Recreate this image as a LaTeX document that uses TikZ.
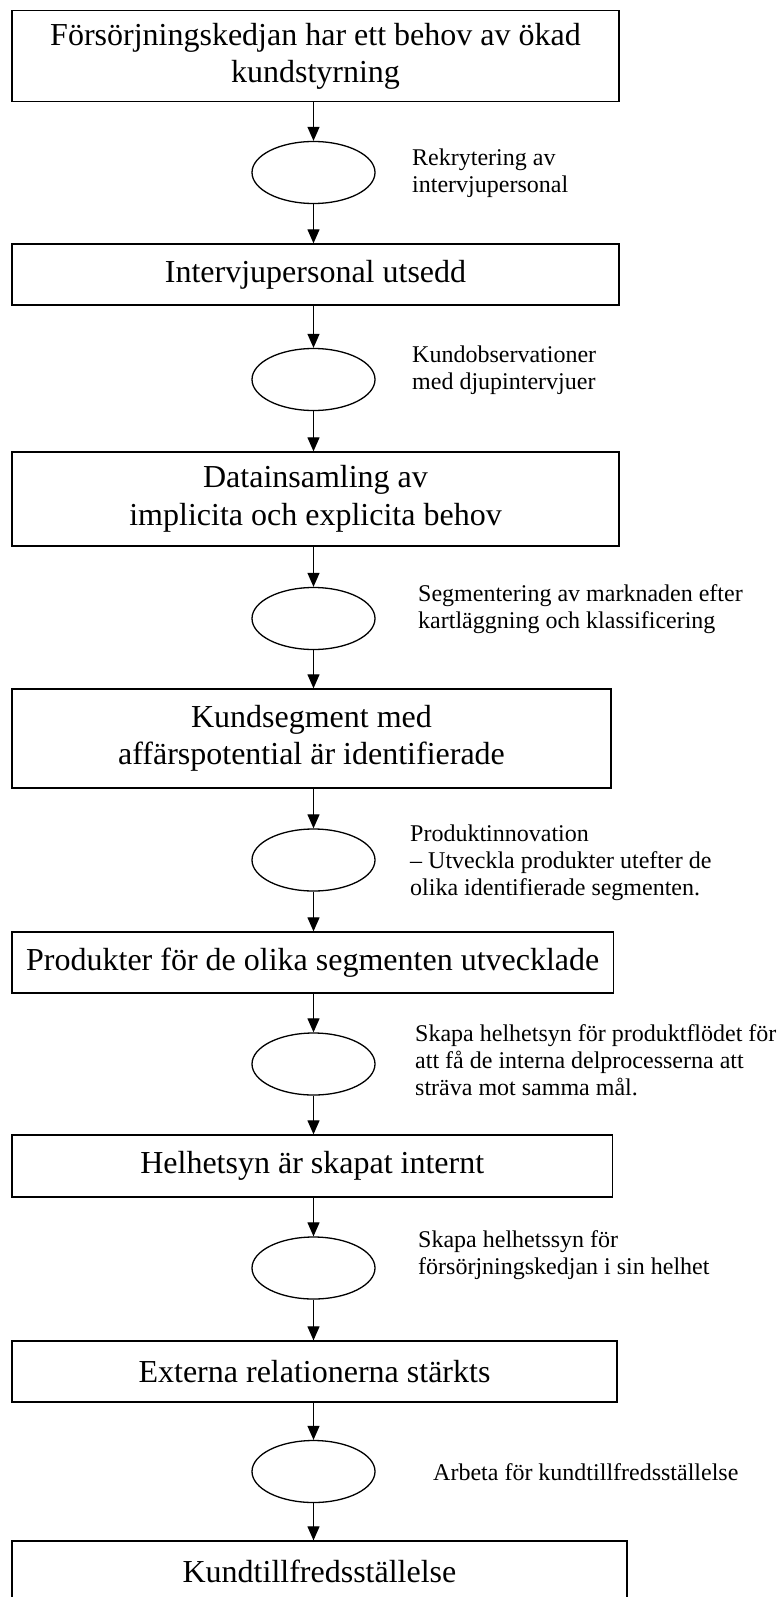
\documentclass[tikz,border=0pt]{standalone}
\usepackage{fontspec}
\setmainfont{Liberation Serif}
\usetikzlibrary{shapes.geometric,arrows.meta}

\tikzset{
  stage/.style={draw, line width=1.3pt, inner sep=0pt, align=center,
    font=\fontsize{32}{37.5}\selectfont},
  activity/.style={draw, ellipse, line width=1.3pt, inner sep=0pt,
    minimum width=123pt, minimum height=62pt},
  note/.style={inner sep=0pt, anchor=base west, font=\fontsize{24}{27}\selectfont},
  flow/.style={line width=1.2pt, -{Triangle[length=14pt,width=12pt]}}
}

\newcommand{\lines}[1]{\begin{tabular}[t]{@{}l@{}}#1\end{tabular}}

\begin{document}
\begin{tikzpicture}[x=1pt,y=1pt]
  \useasboundingbox (0,0) rectangle (780,-1597);
  \clip (0,0) rectangle (780,-1597);
  \fill[white] (0,0) rectangle (780,-1597);

  % stages (boxes)
  \node[stage, minimum width=607pt, minimum height=91pt] (b1) at (315.5,-56.2)
    {Försörjningskedjan har ett behov av ökad\\kundstyrning};
  \node[stage, minimum width=607pt, minimum height=61pt] (b2) at (315.5,-274.5)
    {Intervjupersonal utsedd};
  \node[stage, minimum width=607pt, minimum height=94pt] (b3) at (315.5,-499)
    {Datainsamling av\\implicita och explicita behov};
  \node[stage, minimum width=599pt, minimum height=99pt] (b4) at (311.5,-738.5)
    {Kundsegment med\\affärspotential är identifierade};
  \node[stage, minimum width=601.5pt, minimum height=61pt] (b5) at (312.75,-962.5)
    {Produkter för de olika segmenten utvecklade};
  \node[stage, minimum width=600.5pt, minimum height=62pt] (b6) at (312.25,-1166)
    {Helhetsyn är skapat internt};
  \node[stage, minimum width=605pt, minimum height=61pt] (b7) at (314.5,-1371.5)
    {Externa relationerna stärkts};
  \node[stage, minimum width=615pt, minimum height=61pt] (b8) at (319.5,-1571.5)
    {Kundtillfredsställelse};

  % activities (ellipses)
  \node[activity] (e1) at (313.5,-172.5) {};
  \node[activity] (e2) at (313.5,-379.5) {};
  \node[activity] (e3) at (313.5,-618.5) {};
  \node[activity] (e4) at (313.5,-860) {};
  \node[activity] (e5) at (313.5,-1064) {};
  \node[activity] (e6) at (313.5,-1268) {};
  \node[activity] (e7) at (313.5,-1471.5) {};

  % activity descriptions
  \node[note] (n1) at (412,-166) {\lines{Rekrytering av\\intervjupersonal}};
  \node[note] (n2) at (412,-362.7) {\lines{Kundobservationer\\med djupintervjuer}};
  \node[note] (n3) at (418,-601) {\lines{Segmentering av marknaden efter\\kartläggning och klassificering}};
  \node[note] (n4) at (410,-841.7) {\lines{Produktinnovation\\– Utveckla produkter utefter de\\olika identifierade segmenten.}};
  \node[note] (n5) at (415,-1041.7) {\lines{Skapa helhetsyn för produktflödet för\\att få de interna delprocesserna att\\sträva mot samma mål.}};
  \node[note] (n6) at (418,-1247) {\lines{Skapa helhetssyn för\\försörjningskedjan i sin helhet}};
  \node[note] (n7) at (433,-1480) {Arbeta för kundtillfredsställelse};

  % flow connectors
  \draw[flow] (e1.north |- b1.south) -- (e1.north);
  \draw[flow] (e1.south) -- (e1.south |- b2.north);
  \draw[flow] (e2.north |- b2.south) -- (e2.north);
  \draw[flow] (e2.south) -- (e2.south |- b3.north);
  \draw[flow] (e3.north |- b3.south) -- (e3.north);
  \draw[flow] (e3.south) -- (e3.south |- b4.north);
  \draw[flow] (e4.north |- b4.south) -- (e4.north);
  \draw[flow] (e4.south) -- (e4.south |- b5.north);
  \draw[flow] (e5.north |- b5.south) -- (e5.north);
  \draw[flow] (e5.south) -- (e5.south |- b6.north);
  \draw[flow] (e6.north |- b6.south) -- (e6.north);
  \draw[flow] (e6.south) -- (e6.south |- b7.north);
  \draw[flow] (e7.north |- b7.south) -- (e7.north);
  \draw[flow] (e7.south) -- (e7.south |- b8.north);
\end{tikzpicture}
\end{document}
